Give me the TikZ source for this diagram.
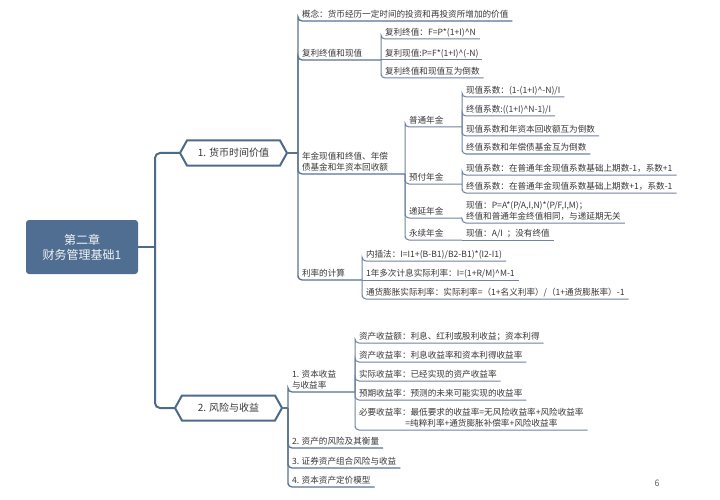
\documentclass[tikz,border=0pt]{standalone}
\usepackage{fontspec}
\setmainfont{Noto Sans CJK SC}
\usetikzlibrary{calc}
\definecolor{rootfill}{HTML}{4F6E91}
\definecolor{lnmain}{HTML}{4E6A8A}
\definecolor{lntwo}{HTML}{5B7391}
\definecolor{lnthree}{HTML}{6F849F}
\definecolor{txt}{HTML}{383838}
\newcommand\myhat{\textasciicircum}
\tikzset{
  leaf/.style={anchor=south west, inner xsep=4pt, inner ysep=1.2pt, text depth=2pt,
    outer sep=0pt, font=\fontsize{8.6}{11.3}\selectfont, text=txt, align=left},
  mainln/.style={draw=lnmain, line width=2pt, rounded corners=5pt},
  twoln/.style={draw=lntwo, line width=1.3pt, rounded corners=4pt},
  threeln/.style={draw=lnthree, line width=1pt, rounded corners=4pt},
  flatln/.style={draw=lnthree, line width=1pt},
  hexnode/.style={minimum width=93pt, minimum height=25pt, inner sep=0pt, outer sep=0pt,
    font=\fontsize{10}{11}\selectfont, text=txt},
  hexline/.style={draw=lnmain, line width=2pt, fill=white, line join=miter},
  rootbox/.style={fill=rootfill, rounded corners=3pt, minimum width=112pt, minimum height=54pt,
    align=center, text=white!92!rootfill, font=\fontsize{12}{15}\selectfont, inner sep=0pt}
}
\begin{document}
\begin{tikzpicture}[x=1pt,y=-1pt]
\useasboundingbox[fill=white] (0,0) rectangle (720,500);

% root
\node[rootbox] (root) at (82,247) {第二章\\财务管理基础1};
\coordinate (t) at (155,247);

% hexagons
\node[hexnode] (h1) at (233.5,153) {};
\coordinate (h1w) at ([xshift=-7pt]h1.west);
\coordinate (h1e) at ([xshift=7pt]h1.east);
\node[hexnode] (h2) at (228.5,408) {};
\coordinate (h2w) at ([xshift=-7pt]h2.west);
\coordinate (h2e) at ([xshift=7pt]h2.east);

\draw[mainln] (root.east) -- (t);
\draw[mainln] (h1w) -| (t);
\draw[mainln] (h2w) -| (t);

\draw[hexline] (h1w) -- (h1.north west) -- (h1.north east) -- (h1e) -- (h1.south east) -- (h1.south west) -- cycle;
\node[hexnode] (h1t) at (h1) {1. 货币时间价值};
\draw[hexline] (h2w) -- (h2.north west) -- (h2.north east) -- (h2e) -- (h2.south east) -- (h2.south west) -- cycle;
\node[hexnode] (h2t) at (h2) {2. 风险与收益};

% ===== branch 1 =====
\coordinate (v1) at (298,153);
\draw[twoln] (h1e) -- (v1);

\node[leaf] (n11) at (298,21) {概念：货币经历一定时间的投资和再投资所增加的价值};
\node[leaf] (n12) at (298,60) {复利终值和现值};
\node[leaf] (n13) at (298,174) {年金现值和终值、年偿\\债基金和年资本回收额};
\node[leaf] (n14) at (298,280) {利率的计算};
\coordinate (p12) at (381,60);
\coordinate (p13) at (405,174);
\coordinate (p14) at (362,280);

\draw[twoln] (v1) |- (n11.south west) -- (n11.south east);
\draw[twoln] (v1) |- (n12.south west) -- (p12);
\draw[twoln] (v1) |- (n13.south west) -- (p13);
\draw[twoln] (v1) |- (n14.south west) -- (p14);

% 复利
\node[leaf] (n121) at (381,39) {复利终值：F=P*(1+I)\myhat N};
\node[leaf] (n122) at (381,60) {复利现值:P=F*(1+I)\myhat(-N)};
\node[leaf] (n123) at (381,78) {复利终值和现值互为倒数};
\draw[threeln] (p12) |- (n121.south west) -- (n121.south east);
\draw[flatln] (p12) -- (n122.south west) -- (n122.south east);
\draw[threeln] (p12) |- (n123.south west) -- (n123.south east);

% 年金
\node[leaf] (n131) at (405,127) {普通年金};
\node[leaf] (n132) at (405,184) {预付年金};
\node[leaf] (n133) at (405,218) {递延年金};
\node[leaf] (n134) at (405,240) {永续年金};
\coordinate (p131) at (462,127);
\coordinate (p132) at (462,184);
\coordinate (p133) at (462,218);
\coordinate (p134) at (462,240);
\draw[threeln] (p13) |- (n131.south west) -- (p131);
\draw[threeln] (p13) |- (n132.south west) -- (p132);
\draw[threeln] (p13) |- (n133.south west) -- (p133);
\draw[threeln] (p13) |- (n134.south west) -- (p134);

\node[leaf] (n1311) at (462,97) {现值系数：(1-(1+I)\myhat-N)/I};
\node[leaf] (n1312) at (462,116) {终值系数:((1+I)\myhat N-1)/I};
\node[leaf] (n1313) at (462,136) {现值系数和年资本回收额互为倒数};
\node[leaf] (n1314) at (462,154) {终值系数和年偿债基金互为倒数};
\draw[threeln] (p131) |- (n1311.south west) -- (n1311.south east);
\draw[threeln] (p131) |- (n1312.south west) -- (n1312.south east);
\draw[threeln] (p131) |- (n1313.south west) -- (n1313.south east);
\draw[threeln] (p131) |- (n1314.south west) -- (n1314.south east);

\node[leaf] (n1321) at (462,175) {现值系数：在普通年金现值系数基础上期数-1，系数+1};
\node[leaf] (n1322) at (462,193) {终值系数：在普通年金现值系数基础上期数+1，系数-1};
\draw[threeln] (p132) |- (n1321.south west) -- (n1321.south east);
\draw[threeln] (p132) |- (n1322.south west) -- (n1322.south east);

\node[leaf] (n1331) at (462,223) {现值：P=A*(P/A,I,N)*(P/F,I,M)；\\终值和普通年金终值相同，与递延期无关};
\draw[threeln] (p133) |- (n1331.south west) -- (n1331.south east);

\node[leaf] (n1341) at (462,240) {现值：A/I\ \ ；没有终值};
\draw[flatln] (p134) -- (n1341.south west) -- (n1341.south east);

% 利率
\node[leaf] (n141) at (362,261) {内插法：I=I1+(B-B1)/B2-B1)*(I2-I1)};
\node[leaf] (n142) at (362,280) {1年多次计息实际利率：I=(1+R/M)\myhat M-1};
\node[leaf] (n143) at (362,299) {通货膨胀实际利率：实际利率=（1+名义利率）/（1+通货膨胀率）-1};
\draw[threeln] (p14) |- (n141.south west) -- (n141.south east);
\draw[flatln] (p14) -- (n142.south west) -- (n142.south east);
\draw[threeln] (p14) |- (n143.south west) -- (n143.south east);

% ===== branch 2 =====
\coordinate (v2) at (288,408);
\draw[twoln] (h2e) -- (v2);

\node[leaf] (n21) at (288,392) {1. 资本收益\\与收益率};
\node[leaf] (n22) at (288,448) {2. 资产的风险及其衡量};
\node[leaf] (n23) at (288,468) {3. 证券资产组合风险与收益};
\node[leaf] (n24) at (288,487) {4. 资本资产定价模型};
\coordinate (p21) at (355,392);
\draw[twoln] (v2) |- (n21.south west) -- (p21);
\draw[twoln] (v2) |- (n22.south west) -- (n22.south east);
\draw[twoln] (v2) |- (n23.south west) -- (n23.south east);
\draw[twoln] (v2) |- (n24.south west) -- (n24.south east);

\node[leaf] (n211) at (355,343) {资产收益额：利息、红利或股利收益；资本利得};
\node[leaf] (n212) at (355,362) {资产收益率：利息收益率和资本利得收益率};
\node[leaf] (n213) at (355,381) {实际收益率：已经实现的资产收益率};
\node[leaf] (n214) at (355,400) {预期收益率：预测的未来可能实现的收益率};
\node[leaf] (n215) at (355,430) {必要收益率：最低要求的收益率=无风险收益率+风险收益率\\\hspace*{5.4em}=纯粹利率+通货膨胀补偿率+风险收益率};
\draw[threeln] (p21) |- (n211.south west) -- (n211.south east);
\draw[threeln] (p21) |- (n212.south west) -- (n212.south east);
\draw[threeln] (p21) |- (n213.south west) -- (n213.south east);
\draw[threeln] (p21) |- (n214.south west) -- (n214.south east);
\draw[threeln] (p21) |- (n215.south west) -- (n215.south east);

% page number
\node[font=\fontsize{9}{10}\selectfont, text=black!60] (pg) at (657,483) {6};
\end{tikzpicture}
\end{document}
